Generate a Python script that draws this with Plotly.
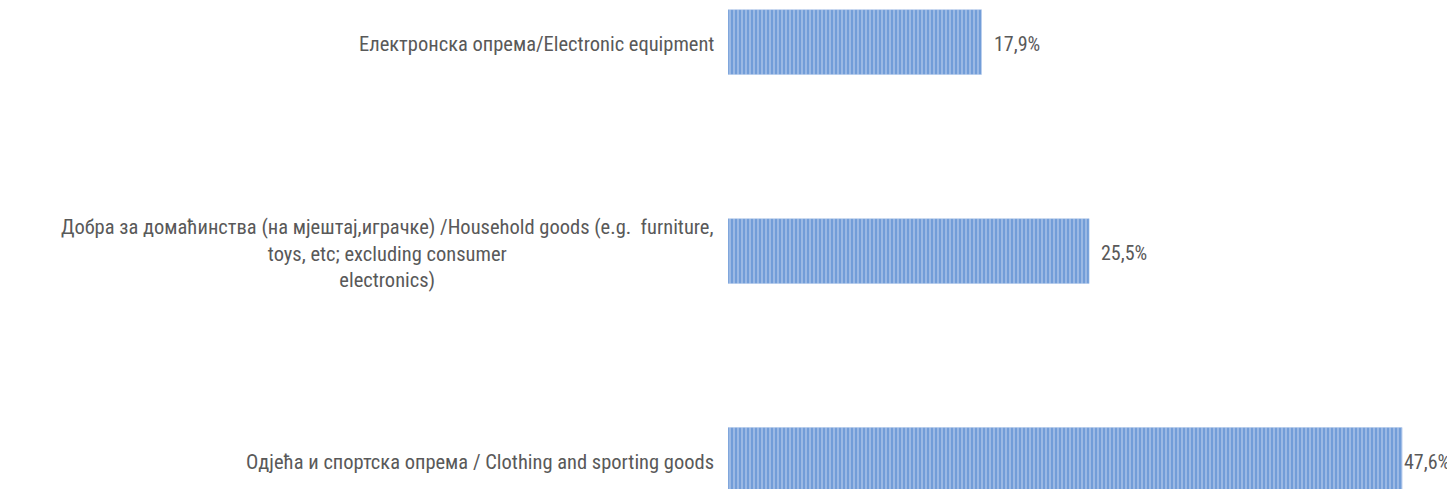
import plotly.graph_objects as go

categories = [
    "Одјећа и спортска опрема / Clothing and sporting goods",
    "Добра за домаћинства (на мјештај,играчке) /Household goods (e.g.  furniture,<br>toys, etc; excluding consumer<br>electronics)",
    "Електронска опрема/Electronic equipment",
]
values = [47.6, 25.5, 17.9]
value_labels = ["47,6%", "25,5%", "17,9%"]
label_gaps = [0, 10, 10]

FONT = "Liberation Sans Narrow, Roboto Condensed, Liberation Sans, sans-serif"
TEXT_COLOR = "#595959"

fig = go.Figure()
fig.add_trace(go.Bar(
    x=values,
    y=list(range(len(categories))),
    orientation="h",
    width=0.31,
    marker=dict(
        color="#729dd8",
        line=dict(color="#a9c2e8", width=0.5),
        pattern=dict(shape="|", fgcolor="#c4d5ef", size=4, solidity=0.5, fillmode="overlay"),
    ),
    hoverinfo="skip",
))

for i, (cat, v, lab, gap) in enumerate(zip(categories, values, value_labels, label_gaps)):
    fig.add_annotation(
        x=0, y=i, xref="x", yref="y", text=cat, showarrow=False,
        xanchor="right", yanchor="middle", align="center", xshift=-12, yshift=-2,
        font=dict(family=FONT, size=20.5, color=TEXT_COLOR),
    )
    fig.add_annotation(
        x=v, y=i, xref="x", yref="y", text=lab, showarrow=False,
        xanchor="left", yanchor="middle", xshift=gap, yshift=-2,
        font=dict(family=FONT, size=20, color=TEXT_COLOR),
    )

fig.update_layout(
    width=1455, height=489,
    margin=dict(l=720, r=0, t=0, b=0),
    paper_bgcolor="white", plot_bgcolor="white",
    showlegend=False,
    xaxis=dict(range=[0, 51.9], visible=False, fixedrange=True),
    yaxis=dict(range=[-0.177, 2.163], visible=False, fixedrange=True),
)

fig.write_html("out.html")
